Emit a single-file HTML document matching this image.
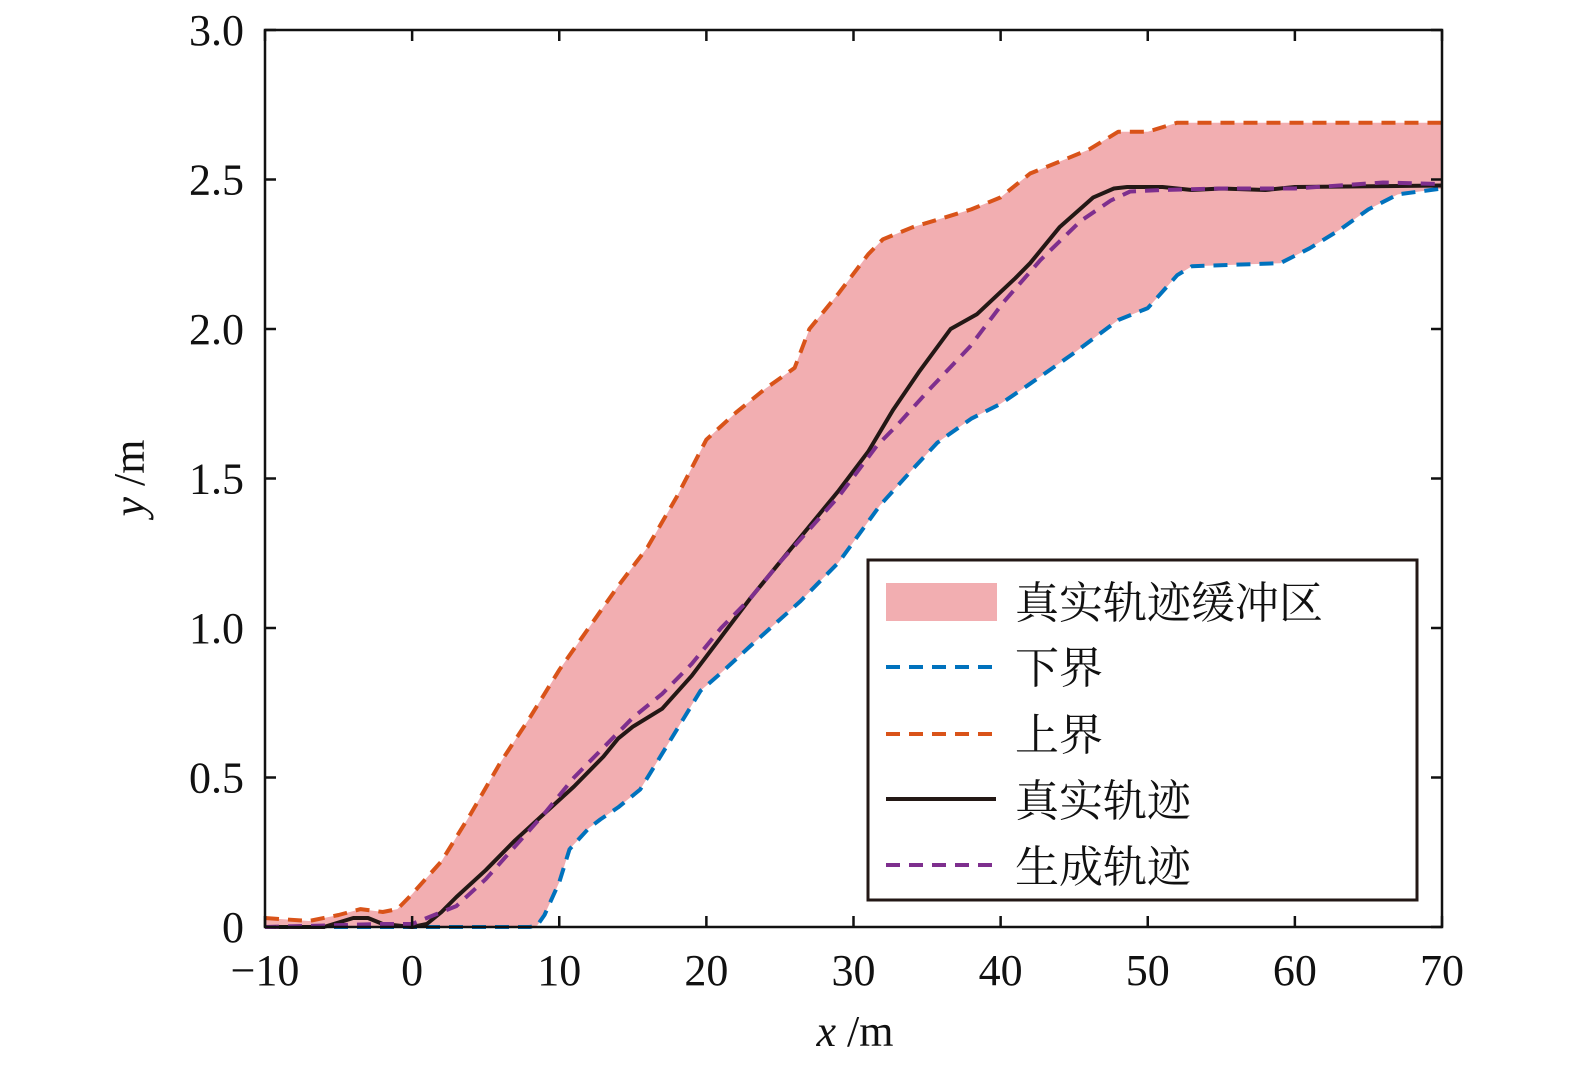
<!DOCTYPE html>
<html><head><meta charset="utf-8"><style>
body{margin:0;background:#fff}
svg{display:block}
text{font-family:"Liberation Serif","Noto Serif CJK SC",serif;fill:#111}
</style></head><body>
<svg id="chart" width="1575" height="1068" viewBox="0 0 1575 1068" xmlns="http://www.w3.org/2000/svg">
<g id="plot"></g>
<g id="axes"></g>
<g id="legend">
<rect x="868" y="560" width="549" height="340" fill="#fff" stroke="#231815" stroke-width="3"/>
<rect x="886" y="583" width="111" height="38" fill="#f2aeb1"/>
<text x="1015" y="618" font-size="44" style="font-family:'Noto Serif CJK SC',serif">真实轨迹缓冲区</text>
<line x1="886" y1="667" x2="996" y2="667" stroke="#0072bd" stroke-width="4" stroke-dasharray="14,9"/>
<text x="1015" y="683" font-size="44" style="font-family:'Noto Serif CJK SC',serif">下界</text>
<line x1="886" y1="734" x2="996" y2="734" stroke="#d95319" stroke-width="4" stroke-dasharray="14,9"/>
<text x="1015" y="750" font-size="44" style="font-family:'Noto Serif CJK SC',serif">上界</text>
<line x1="886" y1="799" x2="996" y2="799" stroke="#231815" stroke-width="4"/>
<text x="1015" y="816" font-size="44" style="font-family:'Noto Serif CJK SC',serif">真实轨迹</text>
<line x1="886" y1="865" x2="996" y2="865" stroke="#7e2f8e" stroke-width="4" stroke-dasharray="14,9"/>
<text x="1015" y="882" font-size="44" style="font-family:'Noto Serif CJK SC',serif">生成轨迹</text>
</g>
</svg>
<script>
const upperX=[-10,-7,-5,-3.5,-2,-1,0,2,4,6,8,10,12,14,16,18,20,22,24,26,27,29,31,32,34,36,38,40,42,44,46,48,50,52,70];
const upperY=[0.03,0.02,0.04,0.06,0.05,0.06,0.11,0.22,0.38,0.55,0.70,0.86,1.0,1.14,1.27,1.44,1.63,1.72,1.80,1.87,2.0,2.12,2.25,2.30,2.34,2.37,2.40,2.44,2.52,2.56,2.60,2.66,2.66,2.69,2.69];
const lowerX=[-10,8,8.5,9,10,10.7,12,12.8,14,15.5,17,19.6,21,23,26.4,29,31.8,34,35.7,38,40,41.8,45,48,50,52,53,59,61,63,65,67,70];
const lowerY=[0,0,0.005,0.04,0.15,0.26,0.33,0.36,0.40,0.46,0.58,0.79,0.85,0.94,1.09,1.22,1.41,1.53,1.62,1.70,1.75,1.81,1.92,2.03,2.07,2.18,2.21,2.22,2.27,2.33,2.40,2.45,2.47];
const trueX=[-10,-6,-4,-3,-2,0,1,2,3,5,7,9,11,13,14,15,17,19,21,23,25,27,29,31,32.7,34.5,36.6,38.4,41,42,44,46.3,47.7,48.6,51,53,55,58,60,70];
const trueY=[0,0,0.03,0.03,0.01,0,0.01,0.05,0.10,0.19,0.29,0.38,0.47,0.57,0.63,0.67,0.73,0.84,0.97,1.10,1.22,1.34,1.46,1.59,1.73,1.86,2.0,2.05,2.17,2.22,2.34,2.44,2.47,2.475,2.475,2.465,2.47,2.465,2.475,2.48];
const genX=[-10,-2,0,1,3,5,7,9,11,13,15,17,19,21,23,25,27,29,31.6,33,35.2,37.9,40.2,42.7,45.4,47.5,48.8,51,55,60,66,70];
const genY=[0,0.01,0.01,0.03,0.07,0.16,0.27,0.38,0.50,0.60,0.70,0.78,0.88,1.0,1.10,1.22,1.33,1.44,1.61,1.68,1.80,1.94,2.09,2.23,2.36,2.43,2.46,2.465,2.47,2.47,2.49,2.485];
const xTicks=[-10,0,10,20,30,40,50,60,70];
const xTickLabels=["−10","0","10","20","30","40","50","60","70"];
const yTicks=[0,0.5,1,1.5,2,2.5,3];
const yTickLabels=["0","0.5","1.0","1.5","2.0","2.5","3.0"];
const L=265,R=1442,T=30,B=927;
function sx(v){return L+(v+10)/80*(R-L);}
function sy(v){return B-v/3*(B-T);}
const NS="http://www.w3.org/2000/svg";
const plot=document.getElementById('plot'),axes=document.getElementById('axes');
function pts(xs,ys){return xs.map((x,i)=>sx(x).toFixed(1)+','+sy(ys[i]).toFixed(1));}
function mk(tag,attrs,parent){const e=document.createElementNS(NS,tag);for(const k in attrs)e.setAttribute(k,attrs[k]);parent.appendChild(e);return e;}
const area=mk('polygon',{points:pts(upperX,upperY).concat(pts(lowerX,lowerY).reverse()).join(' '),fill:'#f2aeb1'},plot);


function line(xs,ys,color,dash,name){const p=mk('polyline',{points:pts(xs,ys).join(' '),fill:'none',stroke:color,'stroke-width':4,'stroke-linejoin':'round'},plot);if(dash)p.setAttribute('stroke-dasharray','14,9');return p;}
const lo=line(lowerX,lowerY,'#0072bd',true);


const up=line(upperX,upperY,'#d95319',true);


const tr=line(trueX,trueY,'#231815',false);


const ge=line(genX,genY,'#7e2f8e',true);


const frame=mk('rect',{x:L,y:T,width:R-L,height:B-T,fill:'none',stroke:'#111','stroke-width':2.5},axes);


xTicks.forEach((v,i)=>{const x=sx(v);
mk('line',{x1:x,y1:B,x2:x,y2:B-11,stroke:'#111','stroke-width':2.5},axes);
mk('line',{x1:x,y1:T,x2:x,y2:T+11,stroke:'#111','stroke-width':2.5},axes);
const t=mk('text',{x:x,y:985,'font-size':44,'text-anchor':'middle'},axes);t.textContent=xTickLabels[i];

});
yTicks.forEach((v,i)=>{const y=sy(v);
mk('line',{x1:L,y1:y,x2:L+11,y2:y,stroke:'#111','stroke-width':2.5},axes);
mk('line',{x1:R,y1:y,x2:R-11,y2:y,stroke:'#111','stroke-width':2.5},axes);
const t=mk('text',{x:244,y:y+15,'font-size':44,'text-anchor':'end'},axes);t.textContent=yTickLabels[i];

});
const xt=mk('text',{x:855,y:1046,'font-size':44,'text-anchor':'middle'},axes);
xt.innerHTML='<tspan font-style="italic">x</tspan> /m';


const yt=mk('text',{x:0,y:0,'font-size':44,'text-anchor':'middle',transform:'translate(144,478) rotate(-90)'},axes);
yt.innerHTML='<tspan font-style="italic">y</tspan> /m';


</script>
</body></html>
